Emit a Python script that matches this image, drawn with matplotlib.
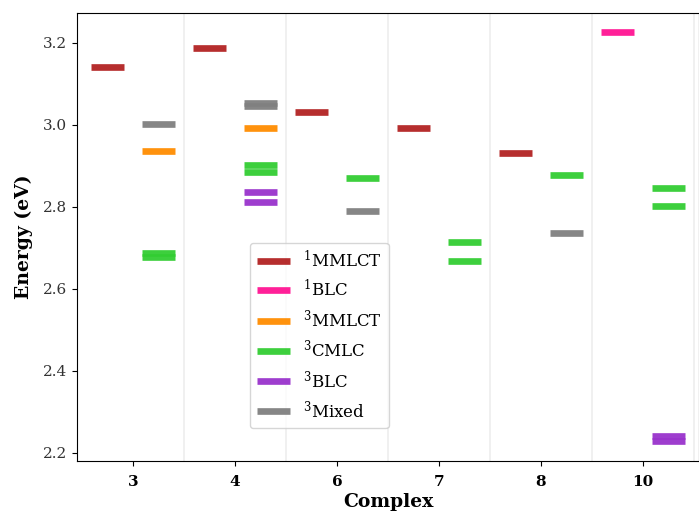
import matplotlib
matplotlib.use("Agg")
import matplotlib.pyplot as plt

plt.rcParams['font.family'] = 'DejaVu Serif'
plt.rcParams['mathtext.fontset'] = 'dejavuserif'

complexes = ['3', '4', '6', '7', '8', '10']

# complex index and energy (eV) of each state
mmlct1_idx = [0, 1, 2, 3, 4]
mmlct1_e = [3.140, 3.188, 3.031, 2.991, 2.931]
blc1_idx = [5]
blc1_e = [3.227]
mmlct3_idx = [0, 1]
mmlct3_e = [2.935, 2.991]
cmlc3_idx = [0, 0, 1, 1, 2, 3, 3, 4, 5, 5]
cmlc3_e = [2.688, 2.678, 2.902, 2.886, 2.871, 2.715, 2.669, 2.877, 2.846, 2.803]
blc3_idx = [1, 1, 5, 5]
blc3_e = [2.837, 2.811, 2.242, 2.228]
mixed3_idx = [0, 1, 1, 2, 4]
mixed3_e = [3.002, 3.052, 3.045, 2.789, 2.737]

states = [
    (r'$^1$MMLCT', 'firebrick', True, mmlct1_idx, mmlct1_e),
    (r'$^1$BLC', 'deeppink', True, blc1_idx, blc1_e),
    (r'$^3$MMLCT', 'darkorange', False, mmlct3_idx, mmlct3_e),
    (r'$^3$CMLC', 'limegreen', False, cmlc3_idx, cmlc3_e),
    (r'$^3$BLC', 'darkorchid', False, blc3_idx, blc3_e),
    (r'$^3$Mixed', 'gray', False, mixed3_idx, mixed3_e),
]

fig = plt.figure(figsize=(6.99, 5.14), dpi=100)
ax = fig.add_axes([0.110, 0.103, 0.890, 0.872])

for label, color, singlet, idx, en in states:
    off = -0.25 if singlet else 0.25
    first = True
    for i, e in zip(idx, en):
        ax.plot([i + off - 0.16, i + off + 0.16], [e, e], color=color,
                lw=4.8, alpha=0.95, solid_capstyle='butt',
                label=label if first else None)
        first = False

# separators between complexes
for k in range(len(complexes)):
    ax.axvline(k + 0.5, color='lightgray', lw=1.2, alpha=0.4, zorder=0)

ax.set_xlim(-0.55, 5.55)
ax.set_ylim(2.18, 3.273)
ax.set_xticks(range(len(complexes)))
ax.set_xticklabels(complexes, fontweight='bold', fontsize=11)
ax.tick_params(axis='x', pad=6.5)
ax.set_yticks([2.2, 2.4, 2.6, 2.8, 3.0, 3.2])
ax.tick_params(axis='y', labelsize=11, labelcolor='#333333')
ax.set_xlabel('Complex', fontweight='bold', fontsize=13.5, labelpad=3)
ax.set_ylabel('Energy (eV)', fontweight='bold', fontsize=13.5, labelpad=7)

ax.legend(loc='lower left', bbox_to_anchor=(0.278, 0.074), borderaxespad=0,
          fontsize=12, handlelength=2)

fig.savefig('out.png', dpi=100)
